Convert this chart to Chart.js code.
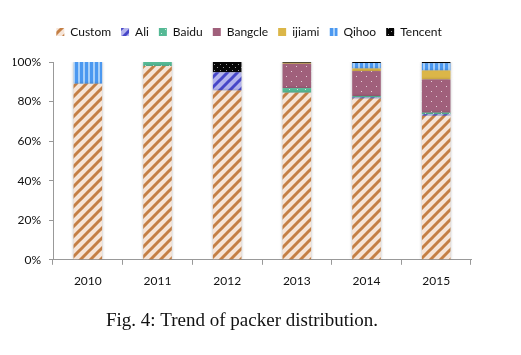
<!DOCTYPE html>
<html><head><meta charset="utf-8">
<script src="https://cdn.jsdelivr.net/npm/chart.js@4/dist/chart.umd.min.js"></script>
<style>html,body{margin:0;padding:0;background:#fff;}#wrap{width:521px;height:355px;}</style>
</head><body><div id="wrap"><canvas id="c" width="521" height="355"></canvas></div>
<script>
const years = ['2010','2011','2012','2013','2014','2015'];
const custom  = [89, 98, 85.6, 84.5, 81.5, 72.8];
const ali     = [0, 0, 9.2, 0, 0.6, 0.8];
const baidu   = [0, 2, 0, 2.3, 0.7, 0.8];
const bangcle = [0, 0, 0, 12.3, 12.6, 16.8];
const ijiami  = [0, 0, 0, 0.5, 1.3, 4.5];
const qihoo   = [11, 0, 0, 0, 2.8, 3.7];
const tencent = [0, 0, 5.2, 0.4, 0.5, 0.6];
const yTicks  = [0, 20, 40, 60, 80, 100];
const caption = 'Fig. 4: Trend of packer distribution.';

function tile(w, h, draw) {
  const cv = document.createElement('canvas'); cv.width = w; cv.height = h;
  const g = cv.getContext('2d'); draw(g, w, h);
  return document.getElementById('c').getContext('2d').createPattern(cv, 'repeat');
}
function diag(bg, fg, size, lw) {
  return tile(size, size, (g, w, h) => {
    g.fillStyle = bg; g.fillRect(0, 0, w, h);
    g.strokeStyle = fg; g.lineWidth = lw; g.lineCap = 'square';
    for (const o of [-w, 0, w]) { g.beginPath(); g.moveTo(o, h); g.lineTo(o + w, 0); g.stroke(); }
  });
}
function dots(bg, fg, size, r) {
  return tile(size, size, (g, w, h) => {
    g.fillStyle = bg; g.fillRect(0, 0, w, h);
    g.fillStyle = fg; g.fillRect(1, 1, r, r); g.fillRect(1 + w / 2, 1 + h / 2, r, r);
  });
}
const pCustom = diag('#f6e5d8', '#c47f45', 10, 3);
const pAli = diag('#b4b4ec', '#4646c8', 10, 3);
const pBaidu = dots('#55b995', 'rgba(255,255,255,0.75)', 8, 1);
const pBangcle = dots('#a0607b', 'rgba(255,255,255,0.7)', 10, 1);
const pIjiami = tile(4, 4, (g) => { g.fillStyle = '#dbb648'; g.fillRect(0, 0, 4, 4); });
const pQihoo = tile(5, 5, (g) => { g.fillStyle = '#a6cff9'; g.fillRect(0, 0, 5, 5); g.fillStyle = '#4b98f0'; g.fillRect(0, 0, 3, 5); });
const pTencent = dots('#050505', 'rgba(255,255,255,0.6)', 6, 1);

const series = [
  ['Custom', custom, pCustom], ['Ali', ali, pAli], ['Baidu', baidu, pBaidu],
  ['Bangcle', bangcle, pBangcle], ['ijiami', ijiami, pIjiami],
  ['Qihoo', qihoo, pQihoo], ['Tencent', tencent, pTencent]
];

const shadow = {
  id: 'shadow',
  beforeDatasetsDraw(chart) { const c = chart.ctx; c.save(); c.shadowColor = 'rgba(0,0,0,0.28)'; c.shadowBlur = 3; },
  afterDatasetsDraw(chart) { chart.ctx.restore(); }
};
const legendGap = {
  id: 'legendGap',
  beforeInit(chart) {
    const fit = chart.legend.fit;
    chart.legend.fit = function () { fit.call(this); this.height += 14; };
  },
  afterLayout(chart) { chart.legend.left += 7; chart.legend.right += 7; }
};

new Chart(document.getElementById('c'), {
  type: 'bar',
  data: {
    labels: years,
    datasets: series.map(([n, d, p]) => ({ label: n, data: d, backgroundColor: p, borderWidth: 0,
      categoryPercentage: 1, barPercentage: 0.41 }))
  },
  plugins: [shadow, legendGap],
  options: {
    responsive: false, animation: false,
    layout: { padding: { left: 13, right: 50, top: 16, bottom: 9 } },
    plugins: {
      tooltip: { enabled: false },
      legend: {
        position: 'top',
        labels: { boxWidth: 8, boxHeight: 8, padding: 10, color: '#111',
          font: { family: 'Lato', size: 12 } }
      },
      title: {
        display: true, position: 'bottom', text: caption, color: '#111',
        font: { family: 'Liberation Serif', size: 19, weight: 'normal' },
        padding: { top: 12, bottom: 14 }
      }
    },
    scales: {
      x: {
        stacked: true,
        border: { display: true, color: '#999', width: 1 },
        grid: { display: true, drawOnChartArea: false, offset: true, tickLength: 5, color: '#999' },
        ticks: { color: '#111', font: { family: 'Lato', size: 12 }, padding: 9 }
      },
      y: {
        stacked: true, min: 0, max: 100,
        afterFit: (s) => { s.width = 40; },
        afterBuildTicks: (s) => { s.ticks = yTicks.map(v => ({ value: v })); },
        border: { display: true, color: '#999', width: 1 },
        grid: { display: true, drawOnChartArea: false, tickLength: 4, color: '#999' },
        ticks: { color: '#111', font: { family: 'Lato', size: 12 }, padding: 8,
          callback: (v) => v + '%' }
      }
    }
  }
});
</script></body></html>
